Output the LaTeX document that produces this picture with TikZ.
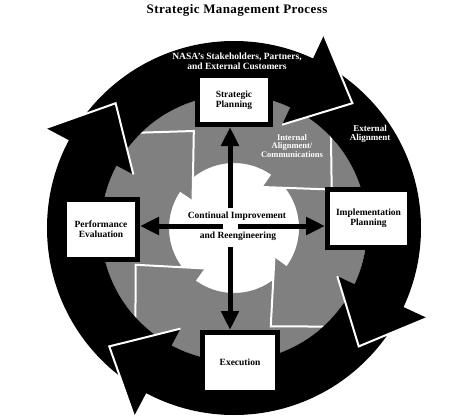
\documentclass[tikz,border=0pt]{standalone}
\usepackage{fontspec}
\setmainfont{Liberation Serif}
\usetikzlibrary{arrows.meta}

\begin{document}
\begin{tikzpicture}[x=1pt, y=1pt,
        stage/.style={draw=black, line width=5pt, fill=white, align=center, inner sep=0pt,
            font=\fontsize{9.5}{10}\selectfont\bfseries},
        spoke/.style={line width=5pt, -{Triangle[length=19pt, width=17pt]}},
        ringtext/.style={text=white, align=center},
        core/.style={font=\fontsize{9.5}{10}\selectfont\bfseries},
        rim/.style={white, line width=2pt}]
        \useasboundingbox (0,0) rectangle (474,416);
        \begin{scope}[shift={(234,188)}]
            \fill[gray, even odd rule] (0,0) circle (133) (0,0) circle (65);
            \foreach \b/\t in {55/21.5, -36/-69.5, -126/-159.5, 146/112.5} {
                \fill[gray] (\b:168) -- (\t:105) -- (\b:50) -- cycle;
                \draw[rim] (\b:168) -- (\t:105) -- (\b:50);
            }
            \fill[black, even odd rule] (0,0) circle (187) (0,0) circle (133);
            \foreach \b/\t in {65/46.5, -25/-43.5, -118/-136.5, 152/133.5} {
                \fill[black] (\b:213) -- (\t:172) -- (\b:114) -- cycle;
                \draw[rim] (\b:213) -- (\t:172) -- (\b:114);
            }
        \end{scope}

        \node[font=\fontsize{13}{13}\selectfont\bfseries\addfontfeature{LetterSpace=3}] (title) at (237,406) {Strategic Management Process};
        \node[ringtext, font=\fontsize{9.5}{10}\selectfont\bfseries] (stake) at (237,355) {NASA's Stakeholders, Partners,\\and External Customers};
        \node[ringtext, font=\fontsize{8.5}{8.5}\selectfont\bfseries] (internal) at (292,270) {Internal\\Alignment/\\Communications};
        \node[ringtext, font=\fontsize{9}{9}\selectfont\bfseries] (external) at (370,282.5) {External\\Alignment};

        \node[stage, minimum width=73pt, minimum height=49pt] (plan) at (234,316) {Strategic\\Planning};
        \node[stage, minimum width=73pt, minimum height=60pt] (perf) at (101,186.5) {Performance\\Evaluation};
        \node[stage, minimum width=82pt, minimum height=58pt] (impl) at (368.5,197.5) {Implementation\\Planning};
        \node[stage, minimum width=75pt, minimum height=60pt] (exec) at (240,53.5) {Execution};

        \node[core] (improve) at (237,200) {Continual Improvement};
        \node[core] (reeng) at (238,180) {and Reengineering};

        \coordinate (hubN) at (230,208);
        \coordinate (hubS) at (230,169);
        \coordinate (hubW) at (223,190);
        \coordinate (hubE) at (238,190);
        \draw[spoke] (hubN) -- (hubN |- plan.south);
        \draw[spoke] (hubS) -- (hubS |- exec.north);
        \draw[spoke] (hubW) -- (hubW -| perf.east);
        \draw[spoke] (hubE) -- (hubE -| impl.west);
\end{tikzpicture}
\end{document}
